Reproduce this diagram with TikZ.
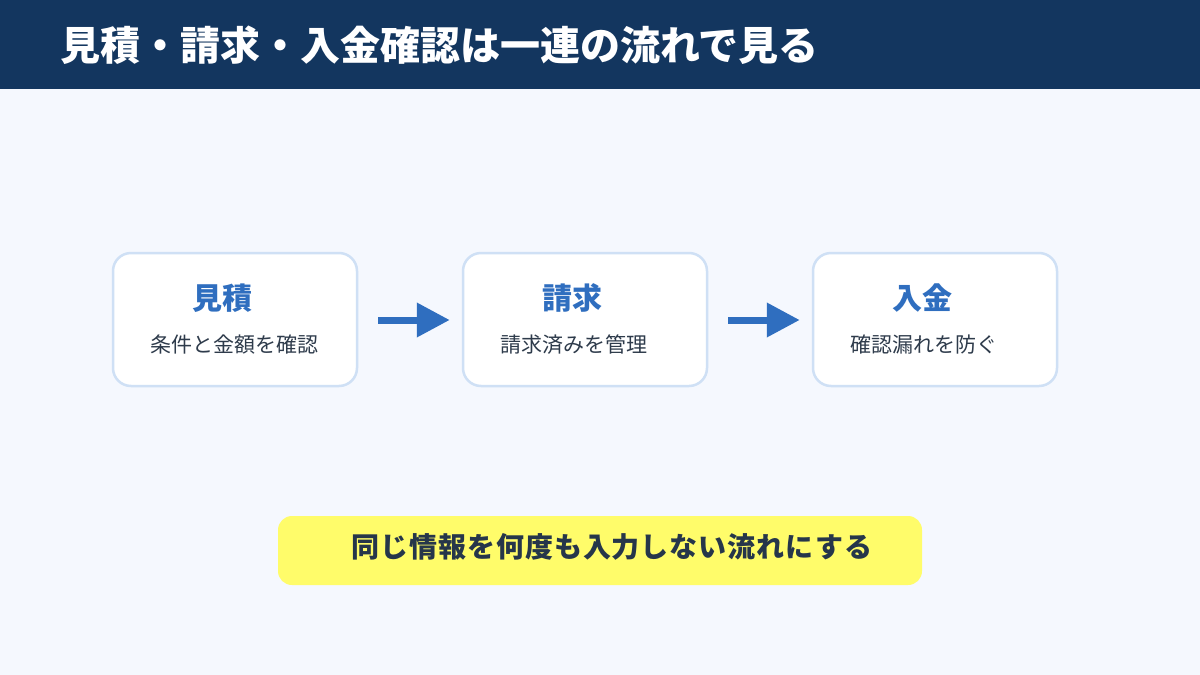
\documentclass[tikz,border=0pt]{standalone}
\usepackage{fontspec}
\setmainfont{Noto Sans CJK JP}
\usetikzlibrary{arrows.meta,calc}
\definecolor{hdr}{HTML}{13365F}
\definecolor{bg}{HTML}{F5F8FE}
\definecolor{bord}{HTML}{CFE0F5}
\definecolor{accent}{HTML}{2F6EBF}
\definecolor{subtxt}{HTML}{2E3B4B}
\definecolor{yel}{HTML}{FFFC6A}
\definecolor{yeltxt}{HTML}{26364A}
\begin{document}
\begin{tikzpicture}[x=1pt,y=-1pt,
  stagebox/.style={draw=bord,line width=2.5pt,fill=white,rounded corners=18pt,minimum width=244pt,minimum height=133pt,inner sep=0pt},
  stagetitle/.style={anchor=west,inner sep=0pt,text=accent,font=\fontsize{30pt}{34pt}\selectfont\bfseries},
  stagesub/.style={anchor=west,inner sep=0pt,text=subtxt,font=\fontsize{21pt}{25pt}\selectfont},
  flowarrow/.style={draw=accent,line width=7pt,-{Triangle[length=33pt,width=33pt]}}]
\useasboundingbox (0,0) rectangle (1200,675);
\fill[bg] (0,0) rectangle (1200,675);
\fill[hdr] (0,0) rectangle (1200,89);
\node[anchor=west,inner sep=0pt,text=white,font=\fontsize{40pt}{44pt}\selectfont\bfseries] (title) at (60,45) {見積・請求・入金確認は一連の流れで見る};

\node[stagebox] (b1) at (235,319.5) {};
\node[stagebox] (b2) at (585,319.5) {};
\node[stagebox] (b3) at (935,319.5) {};

\node[stagetitle] (t1) at (192,298) {見積};
\node[stagesub] (s1) at (150,345) {条件と金額を確認};
\node[stagetitle] (t2) at (542,298) {請求};
\node[stagesub] (s2) at (500,345) {請求済みを管理};
\node[stagetitle] (t3) at (892,298) {入金};
\node[stagesub] (s3) at (850,345) {確認漏れを防ぐ};

\draw[flowarrow] ($(b1.east)+(20,0.5)$) -- ($(b2.west)+(-12,0.5)$);
\draw[flowarrow] ($(b2.east)+(20,0.5)$) -- ($(b3.west)+(-12,0.5)$);

\node[fill=yel,rounded corners=14pt,minimum width=644pt,minimum height=69pt,inner sep=0pt] (note) at (600,550.5) {};
\node[anchor=west,inner sep=0pt,text=yeltxt,font=\fontsize{28pt}{32pt}\selectfont\bfseries\addfontfeatures{LetterSpace=3.5}] (notetext) at (351,547) {同じ情報を何度も入力しない流れにする};
\end{tikzpicture}
\end{document}
